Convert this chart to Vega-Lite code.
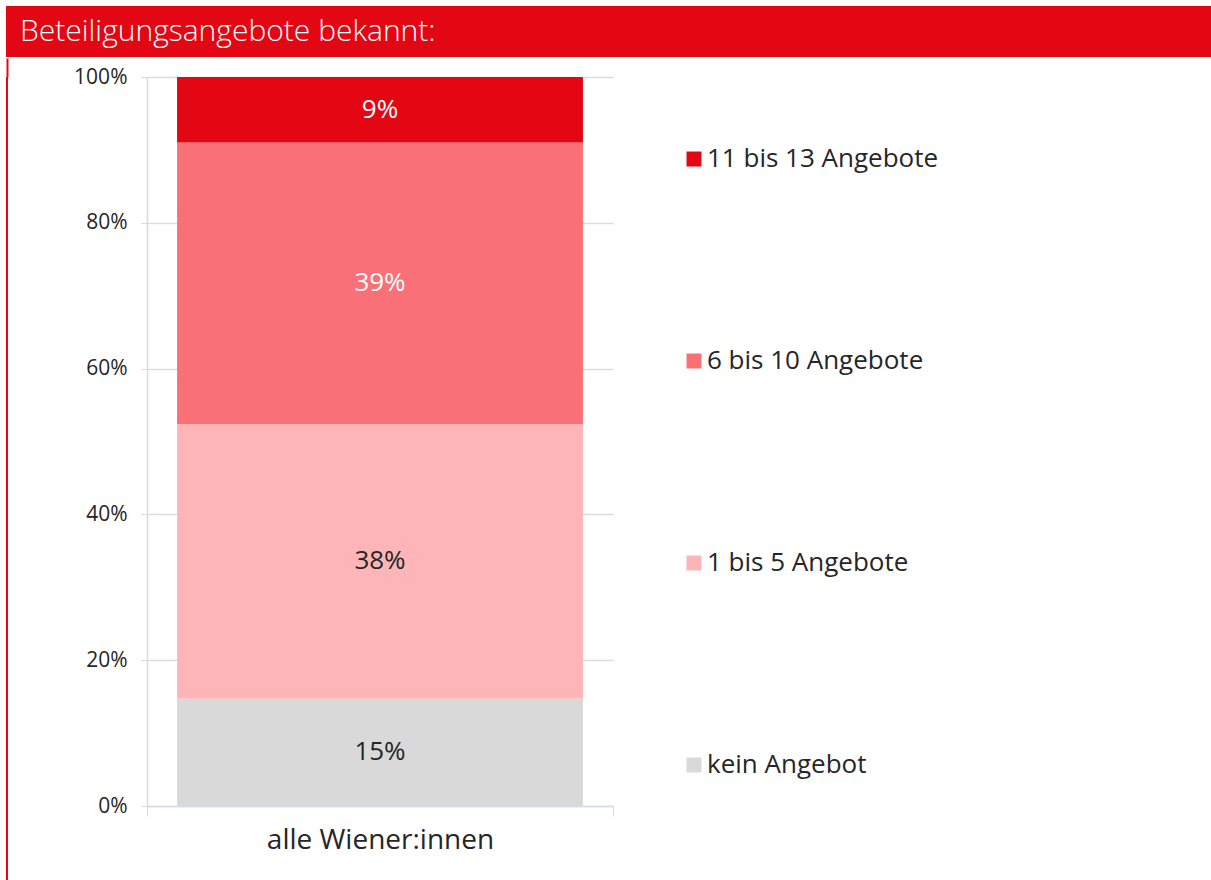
{
  "$schema": "https://vega.github.io/schema/vega-lite/v6.json",
  "padding": {"left": 6, "top": 6, "right": 0, "bottom": 0},
  "background": "white",
  "config": {
    "font": "Open Sans",
    "view": {"stroke": null},
    "concat": {"spacing": 0}
  },
  "datasets": {
    "header": [{"title": "Beteiligungsangebote bekannt:"}],
    "shares": [
      {"group": "alle Wiener:innen", "category": "kein Angebot", "value": 0.147, "rank": 1},
      {"group": "alle Wiener:innen", "category": "1 bis 5 Angebote", "value": 0.377, "rank": 2},
      {"group": "alle Wiener:innen", "category": "6 bis 10 Angebote", "value": 0.386, "rank": 3},
      {"group": "alle Wiener:innen", "category": "11 bis 13 Angebote", "value": 0.090, "rank": 4}
    ]
  },
  "vconcat": [
    {
      "width": 1205,
      "height": 51,
      "data": {"name": "header"},
      "view": {"fill": "#E30613", "stroke": null},
      "mark": {"type": "text", "align": "left", "baseline": "middle", "dx": 14, "color": "white", "fontSize": 30, "fontWeight": 300},
      "encoding": {
        "x": {"field": "title", "type": "nominal", "scale": {"type": "point", "padding": 0, "align": 0}, "axis": null},
        "text": {"field": "title", "type": "nominal"}
      }
    },
    {
      "hconcat": [
        {
          "width": 2,
          "height": 804,
          "data": {"name": "header"},
          "view": {"fill": "#E30613", "stroke": null},
          "mark": {"type": "text", "text": ""},
          "encoding": {
            "x": {
              "field": "title",
              "type": "nominal",
              "scale": {"type": "point"},
              "title": null,
              "axis": {"orient": "top", "labels": false, "domain": false, "grid": false, "ticks": true, "tickSize": 19, "tickWidth": 2, "tickColor": "#E30613", "tickCap": "butt"}
            }
          }
        },
        {
          "width": 466,
          "height": 729,
          "data": {"name": "shares"},
          "encoding": {
            "x": {
              "field": "group",
              "type": "nominal",
              "title": null,
              "scale": {"paddingInner": 0, "paddingOuter": 0},
              "axis": {
                "labelAngle": 0,
                "labelFontSize": 28,
                "labelLimit": 500,
                "labelColor": "#262626",
                "labelPadding": 10,
                "tickBand": "extent",
                "tickSize": 10,
                "tickColor": "#D9D9D9",
                "domainColor": "#D9DCEE",
                "domainWidth": 1.5
              }
            },
            "y": {
              "field": "value",
              "type": "quantitative",
              "stack": "zero",
              "title": null,
              "scale": {"domain": [0, 1]},
              "axis": {
                "format": ".0%",
                "values": [0, 0.2, 0.4, 0.6, 0.8, 1],
                "labelFontSize": 21,
                "labelColor": "#262626",
                "labelPadding": 14,
                "tickSize": 6,
                "tickColor": "#D9D9D9",
                "domainColor": "#D9D9D9",
                "domainWidth": 1.5,
                "grid": true,
                "gridColor": "#D9DCEE",
                "gridWidth": 1.5,
                "minExtent": 139,
                "maxExtent": 139
              }
            },
            "order": {"field": "rank", "type": "quantitative"}
          },
          "layer": [
            {
              "mark": {"type": "bar", "width": {"band": 0.871}},
              "encoding": {
                "color": {
                  "field": "category",
                  "type": "nominal",
                  "sort": ["11 bis 13 Angebote", "6 bis 10 Angebote", "1 bis 5 Angebote", "kein Angebot"],
                  "scale": {
                    "domain": ["11 bis 13 Angebote", "6 bis 10 Angebote", "1 bis 5 Angebote", "kein Angebot"],
                    "range": ["#E30613", "#FA7077", "#FDB5B8", "#D9D9D9"]
                  },
                  "legend": {
                    "title": null,
                    "orient": "none",
                    "legendX": 675,
                    "legendY": 140,
                    "padding": 0,
                    "symbolType": "square",
                    "symbolSize": 225,
                    "symbolStrokeWidth": 0,
                    "labelFontSize": 26,
                    "labelColor": "#262626",
                    "labelOffset": 0,
                    "rowPadding": 176,
                    "labelLimit": 400
                  }
                }
              }
            },
            {
              "mark": {"type": "text", "fontSize": 26, "baseline": "middle"},
              "encoding": {
                "y": {"field": "value", "type": "quantitative", "stack": "zero", "bandPosition": 0.5},
                "text": {"field": "value", "type": "quantitative", "format": ".0%"},
                "color": {
                  "condition": {"test": "datum.category === '11 bis 13 Angebote' || datum.category === '6 bis 10 Angebote'", "value": "white"},
                  "value": "#262626"
                }
              }
            }
          ]
        }
      ]
    }
  ]
}
